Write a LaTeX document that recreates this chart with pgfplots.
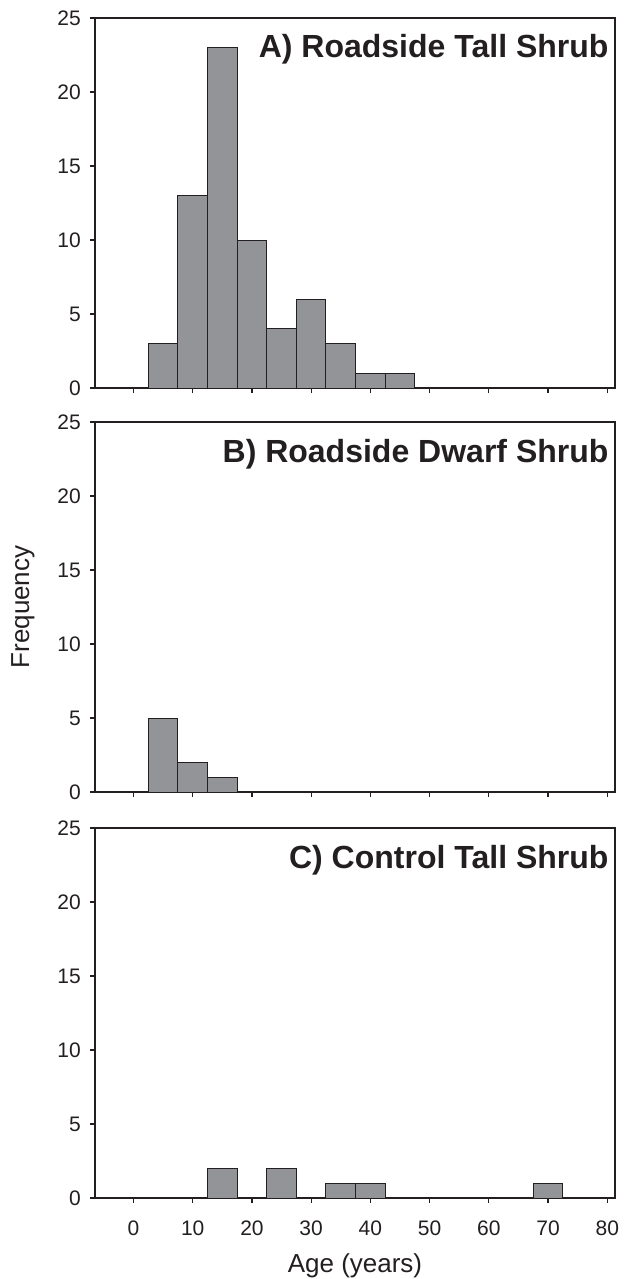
\documentclass[border=0pt]{standalone}
\usepackage{pgfplots}
\pgfplotsset{compat=1.18}
\usepackage{fontspec}
\setmainfont{Liberation Sans}
\definecolor{barfill}{RGB}{147,148,152}
\definecolor{edge}{RGB}{35,31,32}
\pgfplotsset{
  panel/.style={
    width=520pt, height=370pt, scale only axis,
    anchor=north west,
    xmin=-6.5, xmax=81.3, ymin=0, ymax=25,
    xtick={0,10,...,80}, ytick={0,5,...,25},
    xtick pos=left, ytick pos=left,
    tick align=outside, major tick length=5pt,
    axis line style={edge, line width=1.4pt},
    every tick/.style={edge, line width=1.2pt},
    /pgf/number format/assume math mode=true,
    tick label style={font=\fontsize{21}{25}\selectfont, text=edge},
    yticklabel style={inner sep=0pt, xshift=-9pt},
    xticklabel style={inner sep=0pt, yshift=-18pt},
    ybar, bar width=5, bar shift=0pt,
    cycle list={{fill=barfill, draw=edge, line width=1pt}},
    clip=false,
  }
}
\newcommand{\paneltitle}[1]{\node[anchor=base east, xshift=-3pt, yshift=-40pt, font=\fontsize{32}{38}\bfseries\selectfont, text=edge] at (rel axis cs:1,1) {#1};}
\begin{document}
\begin{tikzpicture}[x=1pt,y=1pt]
\path[use as bounding box] (0,0) rectangle (624,-1279);
\begin{axis}[panel, at={(95pt,-18pt)}, xticklabels={}]
\addplot[fill=barfill, draw=edge, line width=1pt] coordinates {(5,3) (10,13) (15,23) (20,10) (25,4) (30,6) (35,3) (40,1) (45,1)};
\paneltitle{A) Roadside Tall Shrub}
\end{axis}
\begin{axis}[panel, at={(95pt,-422pt)}, xticklabels={},
  ylabel={Frequency},
  ylabel style={at={(axis description cs:-0.1385,0.5)}, anchor=center, font=\fontsize{26}{30}\selectfont, text=edge}]
\addplot[fill=barfill, draw=edge, line width=1pt] coordinates {(5,5) (10,2) (15,1)};
\paneltitle{B) Roadside Dwarf Shrub}
\end{axis}
\begin{axis}[panel, at={(95pt,-828pt)},
  xlabel={Age (years)},
  xlabel style={at={(axis description cs:0.5,-0.1838)}, anchor=center, font=\fontsize{26}{30}\selectfont, text=edge}]
\addplot[fill=barfill, draw=edge, line width=1pt] coordinates {(15,2) (25,2) (35,1) (40,1) (70,1)};
\paneltitle{C) Control Tall Shrub}
\end{axis}
\end{tikzpicture}
\end{document}
